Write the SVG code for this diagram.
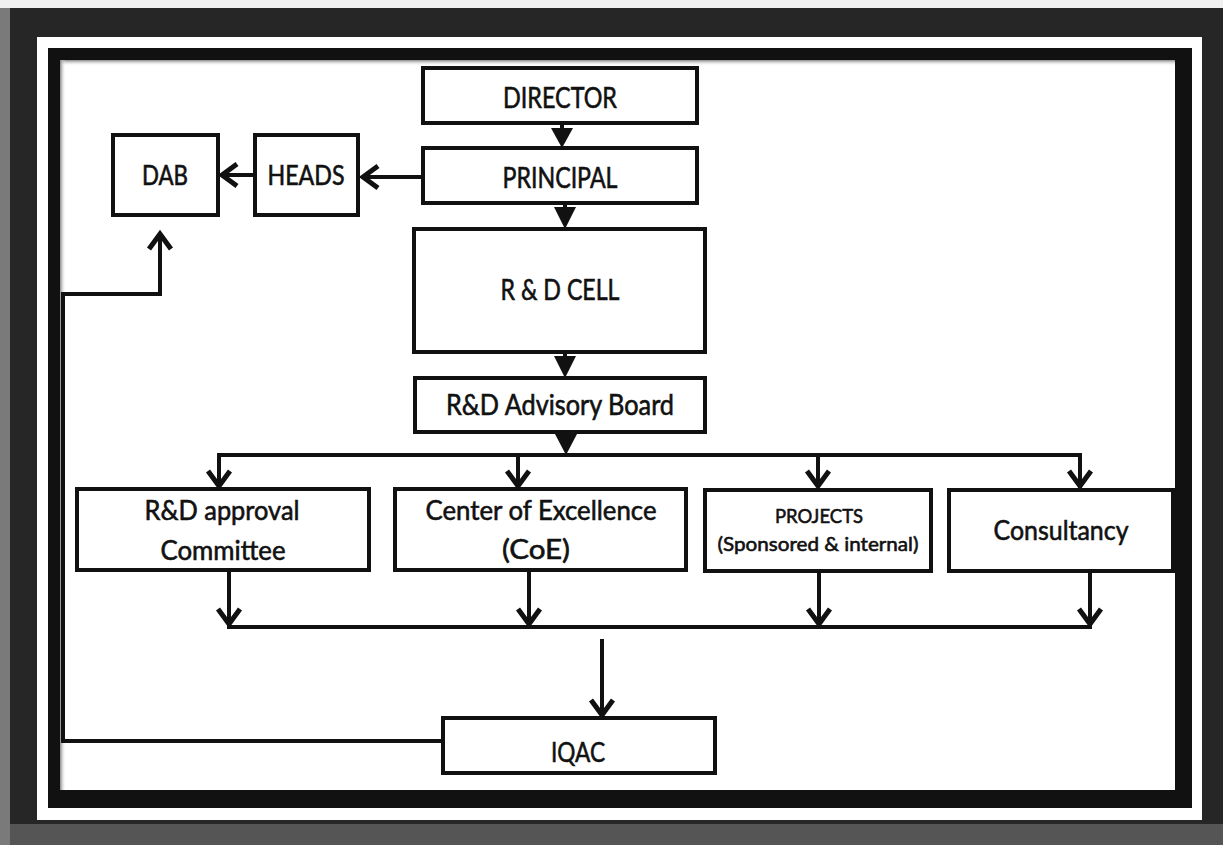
<svg xmlns="http://www.w3.org/2000/svg" width="1223" height="845" viewBox="0 0 1223 845">
<defs>
<style>
.box{fill:#fff;stroke:#111;stroke-width:4}
.lbl{font-family:Lato,"Open Sans","Liberation Sans",sans-serif;fill:#111;stroke:#111;stroke-width:0.6;text-anchor:middle}
.ln{fill:none;stroke:#111;stroke-width:4;stroke-linecap:butt}
.tri{fill:#111}
</style>
<marker id="chev" markerUnits="userSpaceOnUse" viewBox="0 0 28 28" markerWidth="28" markerHeight="28" refX="24" refY="14" orient="auto">
<path d="M8,3 L23,14 L8,25" fill="none" stroke="#111" stroke-width="5" stroke-linejoin="miter"/>
</marker>
<linearGradient id="shT" x1="0" y1="0" x2="0" y2="1"><stop offset="0" stop-color="#888"/><stop offset="1" stop-color="#fff" stop-opacity="0"/></linearGradient>
<linearGradient id="shL" x1="0" y1="0" x2="1" y2="0"><stop offset="0" stop-color="#888"/><stop offset="1" stop-color="#fff" stop-opacity="0"/></linearGradient>
</defs>
<g id="frame">
<rect x="0" y="0" width="1223" height="845" fill="#7a7a7a"/>
<rect x="0" y="0" width="1223" height="8" fill="#f0f0f0"/>
<rect x="10" y="8" width="1213" height="837" fill="#262626"/>
<rect x="10" y="824" width="1213" height="21" fill="#555"/>
<rect x="37" y="37" width="1165" height="783" fill="#fff"/>
<rect x="48" y="48" width="1144" height="760" fill="#111"/>
<rect x="60" y="60" width="1115" height="730" fill="#fff"/>
<rect x="60" y="60" width="1115" height="6" fill="url(#shT)"/>
<rect x="60" y="60" width="6" height="730" fill="url(#shL)"/>
</g>
<g id="connectors">
<path class="ln" d="M562,123 V130"/>
<polygon class="tri" points="551,128 573,128 562,148"/>
<path class="ln" d="M565,203 V209"/>
<polygon class="tri" points="554,207 576,207 565,229"/>
<path class="ln" d="M565,352 V358"/>
<polygon class="tri" points="554,356 576,356 565,378"/>
<path class="ln" d="M566,432 V436"/>
<polygon class="tri" points="555,434 577,434 566,455"/>
<path class="ln" d="M423,177 H362" marker-end="url(#chev)"/>
<path class="ln" d="M255,175 H221" marker-end="url(#chev)"/>
<path class="ln" d="M219,489 V455 H1080 V489"/>
<path class="ln" d="M219,455 V487" marker-end="url(#chev)"/>
<path class="ln" d="M518,455 V487" marker-end="url(#chev)"/>
<path class="ln" d="M818,455 V487" marker-end="url(#chev)"/>
<path class="ln" d="M1080,455 V487" marker-end="url(#chev)"/>
<path class="ln" d="M229,570 V625" marker-end="url(#chev)"/>
<path class="ln" d="M529,570 V625" marker-end="url(#chev)"/>
<path class="ln" d="M819,571 V625" marker-end="url(#chev)"/>
<path class="ln" d="M1090,571 V625" marker-end="url(#chev)"/>
<path class="ln" d="M227,627 H1092"/>
<path class="ln" d="M602,639 V716" marker-end="url(#chev)"/>
<path class="ln" d="M443,741 H63 V294 H160 V233" marker-end="url(#chev)"/>
</g>
<g id="director"><rect class="box" x="423" y="68" width="274" height="55"/><text class="lbl" x="560" y="108" font-size="28" textLength="114" lengthAdjust="spacingAndGlyphs">DIRECTOR</text></g>
<g id="principal"><rect class="box" x="423" y="148" width="274" height="55"/><text class="lbl" x="560" y="188" font-size="28" textLength="115" lengthAdjust="spacingAndGlyphs">PRINCIPAL</text></g>
<g id="heads"><rect class="box" x="255" y="135" width="103" height="80"/><text class="lbl" x="306" y="185" font-size="26" textLength="77" lengthAdjust="spacingAndGlyphs">HEADS</text></g>
<g id="dab"><rect class="box" x="113" y="135" width="105" height="80"/><text class="lbl" x="165" y="185" font-size="26" textLength="46" lengthAdjust="spacingAndGlyphs">DAB</text></g>
<g id="rdcell"><rect class="box" x="414" y="229" width="291" height="123"/><text class="lbl" x="560" y="300" font-size="28" textLength="119" lengthAdjust="spacingAndGlyphs">R &amp; D CELL</text></g>
<g id="advisory"><rect class="box" x="415" y="378" width="290" height="54"/><text class="lbl" x="560" y="415" font-size="28" textLength="228" lengthAdjust="spacingAndGlyphs">R&amp;D Advisory Board</text></g>
<g id="approval"><rect class="box" x="77" y="489" width="292" height="81"/><text class="lbl" x="222" y="520" font-size="27" textLength="155" lengthAdjust="spacingAndGlyphs">R&amp;D approval</text><text class="lbl" x="223" y="560" font-size="27" textLength="125" lengthAdjust="spacingAndGlyphs">Committee</text></g>
<g id="coe"><rect class="box" x="395" y="489" width="291" height="81"/><text class="lbl" x="541" y="520" font-size="27" textLength="231" lengthAdjust="spacingAndGlyphs">Center of Excellence</text><text class="lbl" x="536" y="559" font-size="27" textLength="68" lengthAdjust="spacingAndGlyphs">(CoE)</text></g>
<g id="projects"><rect class="box" x="705" y="490" width="226" height="81"/><text class="lbl" x="819" y="523" font-size="20" textLength="88" lengthAdjust="spacingAndGlyphs">PROJECTS</text><text class="lbl" x="818" y="551" font-size="20" textLength="201" lengthAdjust="spacingAndGlyphs">(Sponsored &amp; internal)</text></g>
<g id="consultancy"><rect class="box" x="949" y="490" width="224" height="81"/><text class="lbl" x="1061" y="540" font-size="27" textLength="135" lengthAdjust="spacingAndGlyphs">Consultancy</text></g>
<g id="iqac"><rect class="box" x="443" y="718" width="272" height="55"/><text class="lbl" x="578" y="762" font-size="27" textLength="54" lengthAdjust="spacingAndGlyphs">IQAC</text></g>
</svg>
